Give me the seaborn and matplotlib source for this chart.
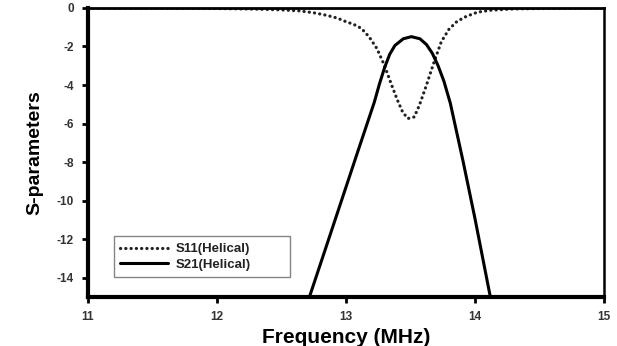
import numpy as np
import pandas as pd
import seaborn as sns
import matplotlib.pyplot as plt

# values
s11_freq = [11.0, 11.5, 12.0, 12.3, 12.5, 12.64, 12.75, 12.85, 12.93, 13.0, 13.06, 13.12,
            13.18, 13.24, 13.30, 13.35, 13.40, 13.44, 13.48, 13.53, 13.57, 13.62, 13.68,
            13.74, 13.80, 13.86, 13.93, 14.02, 14.12, 14.3, 14.6, 15.0]
s11_db = [0.0, -0.01, -0.03, -0.06, -0.1, -0.15, -0.25, -0.38, -0.52, -0.71, -0.85, -1.06,
          -1.5, -2.1, -3.0, -3.92, -4.79, -5.4, -5.74, -5.66, -5.05, -4.1, -2.88,
          -1.75, -1.1, -0.71, -0.45, -0.22, -0.12, -0.05, -0.02, 0.0]

s21_freq = [12.72, 12.837, 12.966, 13.095, 13.22, 13.26, 13.30, 13.34, 13.38, 13.445,
            13.508, 13.574, 13.625, 13.67, 13.715, 13.76, 13.81, 13.91, 14.0, 14.12]
s21_db = [-14.95, -12.6, -10.0, -7.4, -4.9, -3.95, -3.1, -2.4, -1.95, -1.6,
          -1.49, -1.6, -1.9, -2.35, -3.0, -3.8, -4.95, -8.0, -10.9, -15.0]

s11 = pd.DataFrame({'freq': s11_freq, 'val': s11_db})
s21 = pd.DataFrame({'freq': s21_freq, 'val': s21_db})

sns.set_style('ticks')
plt.rcParams['font.family'] = ['Liberation Sans', 'DejaVu Sans']
plt.rcParams['font.weight'] = 'bold'

fig = plt.figure(figsize=(6.17, 3.46), dpi=100)
ax = fig.add_axes([0.1426, 0.142, 0.836, 0.835])

sns.lineplot(data=s11, x='freq', y='val', ax=ax, color='#222222', linewidth=2.3,
             linestyle=(0, (0.05, 1.6)), dash_capstyle='round', label='S11(Helical)')
sns.lineplot(data=s21, x='freq', y='val', ax=ax, color='black', linewidth=2.2,
             label='S21(Helical)')

ax.set_xlim(11, 15)
ax.set_ylim(-15, 0)
ax.set_xticks([11, 12, 13, 14, 15])
ax.set_yticks([0, -2, -4, -6, -8, -10, -12, -14])
ax.set_yticklabels(['0', '-2', '-4', '-6', '-8', '-10', '-12', '-14'])
ax.tick_params(labelsize=8.5, width=2, length=4, direction='out', colors='black',
               labelcolor='#333333', pad=6)
ax.set_xlabel('Frequency (MHz)', fontsize=15, fontweight='bold', labelpad=4, color='black')
ax.set_ylabel('S-parameters', fontsize=14, fontweight='bold', labelpad=10, color='black')

ax.spines['left'].set_linewidth(3)
ax.spines['bottom'].set_linewidth(3)
ax.spines['top'].set_linewidth(2)
ax.spines['right'].set_linewidth(1.8)
for s in ax.spines.values():
    s.set_color('black')

leg = ax.legend(loc='lower left', bbox_to_anchor=(0.037, 0.045, 0.368, 0.18), mode='expand',
                fontsize=9.5, frameon=True, fancybox=False, handlelength=3.6, borderpad=0.5,
                labelspacing=0.25, handletextpad=0.6)
leg.get_frame().set_edgecolor('#666666')
leg.get_frame().set_linewidth(1)
for t in leg.get_texts():
    t.set_color('#222222')

fig.savefig('out.png', dpi=100)
